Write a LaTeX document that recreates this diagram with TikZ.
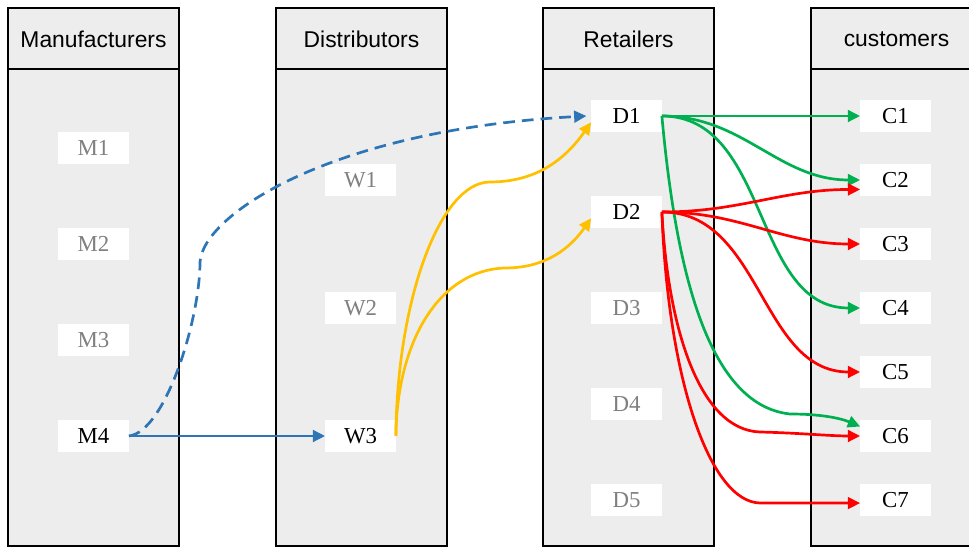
\documentclass[tikz,border=0pt]{standalone}
\usepackage{fontspec}
\setmainfont{Liberation Serif}
\newfontfamily\lanefont{Liberation Sans}
\usepackage{xcolor}
\usetikzlibrary{arrows.meta}
\definecolor{lanegray}{RGB}{237,237,237}
\definecolor{idlegray}{RGB}{128,128,128}
\definecolor{shipblue}{RGB}{46,117,182}
\definecolor{shipyellow}{RGB}{255,192,0}
\definecolor{shipgreen}{RGB}{0,176,80}
\definecolor{shipred}{RGB}{255,0,0}
\tikzstyle{lane} = [draw=black, line width=1.5pt, fill=lanegray]
\tikzstyle{head} = [font=\lanefont\fontsize{19.5}{22}\selectfont, text=black]
\tikzstyle{site} = [rectangle, fill=white, minimum width=60pt, minimum height=27pt, inner sep=0pt, font=\fontsize{19.5}{22}\selectfont]
\tikzstyle{idle} = [site, text=idlegray]
\tikzstyle{flow} = [line width=2.3pt, -{Triangle[length=10.5pt,width=10pt]}]

\begin{document}
\begin{tikzpicture}[x=0.3mm, y=0.3mm]

  % Frame
  \useasboundingbox (0,0) rectangle (969,548);
  \clip (0,0) rectangle (969,548);

  % Lanes with their titles
  \foreach \x/\name/\title in {8/man/Manufacturers, 276/dis/Distributors, 543/ret/Retailers, 811/cus/customers} {
    \draw[lane] (\x,2) rectangle ++(171,538);
    \draw[line width=1.5pt] (\x,479) -- ++(171,0);
    \node (\name) [head] at (\x+85.5,509) {\title};
  }

  % Sites
  \node (m1) [idle] at (93.5,400) {M1};
  \node (m2) [idle] at (93.5,304) {M2};
  \node (m3) [idle] at (93.5,208) {M3};
  \node (m4) [site] at (93.5,112) {M4};

  \node (w1) [idle] at (360.5,368) {W1};
  \node (w2) [idle] at (360.5,240) {W2};
  \node (w3) [site] at (360.5,112) {W3};

  \node (d1) [site] at (626.5,432) {D1};
  \node (d2) [site] at (626.5,336) {D2};
  \node (d3) [idle] at (626.5,240) {D3};
  \node (d4) [idle] at (626.5,144) {D4};
  \node (d5) [idle] at (626.5,48) {D5};

  \node (c1) [site] at (895.5,432) {C1};
  \node (c2) [site] at (895.5,368) {C2};
  \node (c3) [site] at (895.5,304) {C3};
  \node (c4) [site] at (895.5,240) {C4};
  \node (c5) [site] at (895.5,176) {C5};
  \node (c6) [site] at (895.5,112) {C6};
  \node (c7) [site] at (895.5,48) {C7};

  % Manufacturer to distributor and retailer
  \draw[flow, shipblue] (m4) -- (w3);
  \draw[flow, shipblue, dash pattern=on 10pt off 6pt] (m4.east) .. controls (165,116) and (200,228) .. (200,286)
    .. controls (203,333) and (330,418) .. ([xshift=-4]d1.west);

  % Distributor to retailers
  \draw[flow, shipyellow] (w3.east) .. controls (397,248) and (440,366) .. (490,366) to[out=0,in=235] (d1.190);
  \draw[flow, shipyellow] (w3.east) .. controls (397,208) and (440,278) .. (505,280) to[out=0,in=235] (d2.190);

  % Retailers to customers
  \draw[flow, shipgreen] (d1) -- (c1);
  \draw[flow, shipgreen] (d1.east) to[out=0,in=180] (c2.west);
  \draw[flow, shipgreen] (d1.east) to[out=0,in=180] (c4.west);
  \draw[flow, shipgreen] (d1.east) .. controls (675,288) and (705,143) .. (790,134)
    .. controls (820,134) and (840,130) .. (c6.165);
  \draw[flow, shipred] (d2.east) to[out=0,in=180] (c2.195);
  \draw[flow, shipred] (d2.east) to[out=0,in=180] (c3.west);
  \draw[flow, shipred] (d2.east) to[out=0,in=180] (c5.west);
  \draw[flow, shipred] (d2.east) .. controls (668,218) and (700,118) .. (760,116)
    .. controls (800,115) and (830,112) .. (c6.west);
  \draw[flow, shipred] (d2.east) .. controls (668,168) and (710,46) .. (760,45) -- (c7.185);

\end{tikzpicture}
\end{document}
